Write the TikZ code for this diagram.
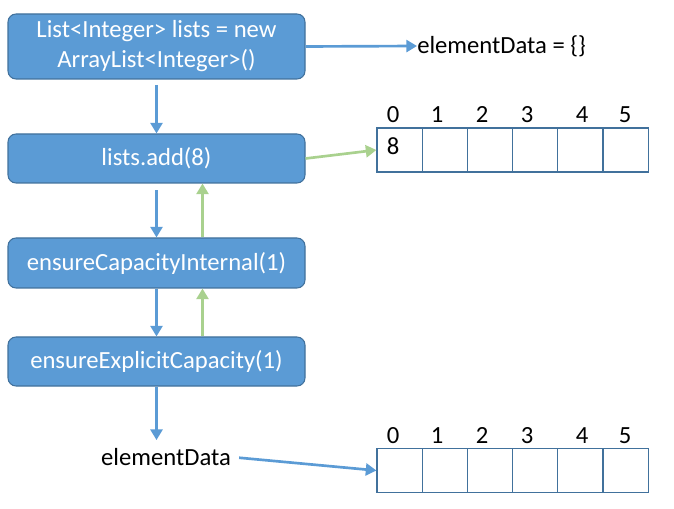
\documentclass[tikz,border=0pt]{standalone}
\usepackage{fontspec}
\setmainfont{Carlito}
\usetikzlibrary{arrows.meta}
\definecolor{boxblue}{HTML}{5B9BD5}
\definecolor{edgeblue}{HTML}{41719C}
\definecolor{backgreen}{HTML}{A9D18E}
\tikzset{
  callbox/.style={draw=edgeblue, line width=0.8pt, fill=boxblue, rounded corners=6pt,
    text=white, minimum width=222.75pt, align=center, inner sep=0pt,
    font=\fontsize{18.5}{22.5}\selectfont},
  callarrow/.style={draw=boxblue, line width=2pt, -{Triangle[width=9pt,length=8pt]}},
  backarrow/.style={draw=backgreen, line width=2pt, -{Triangle[width=9pt,length=8pt]}},
  cell/.style={draw=edgeblue, line width=0.8pt, minimum width=33.9pt, minimum height=33pt, inner sep=0pt},
  lbl/.style={font=\fontsize{18.5}{22.5}\selectfont, inner sep=0pt}
}
\begin{document}
\begin{tikzpicture}[x=0.75pt, y=-0.75pt]
	\useasboundingbox (0,0) rectangle (674,509);
	
	% the calls
	\node[callbox, minimum height=48.75pt] (decl) at (156.5,46.5) {List<Integer> lists = new\\ArrayList<Integer>()};
	\node[callbox, minimum height=36.75pt] (add) at (156.5,158.5) {lists.add(8)};
	\node[callbox, minimum height=37.5pt] (internal) at (156.5,263) {ensureCapacityInternal(1)};
	\node[callbox, minimum height=36.75pt] (explicit) at (156.5,361.5) {ensureExplicitCapacity(1)};
	\node[lbl] (data) at (166,457) {elementData};
	\node[lbl, anchor=west] (empty) at (417,46) {elementData = \{\}};
	
	% the arrays
	\foreach \i in {0,...,5} {
		\node[cell] (a\i) at (399.6+45.2*\i,150) {};
		\node[cell] (b\i) at (399.6+45.2*\i,470.5) {};
	}
	\foreach \i/\x in {0/393,1/437,2/482,3/527,4/582,5/625} {
		\node[lbl, anchor=base] (ia\i) at (\x,123) {\i};
		\node[lbl, anchor=base] (ib\i) at (\x,443) {\i};
	}
	\node[lbl, anchor=base] (eight) at (393,155) {8};
	
	% calls going down
	\draw[callarrow, shorten <=4pt] (decl) -- (add);
	\draw[callarrow, shorten <=5pt] (add) -- (internal);
	\draw[callarrow] (internal) -- (explicit);
	\draw[callarrow, shorten >=6pt] (explicit.south) -- (explicit.south |- data.north);
	\draw[callarrow] (decl.east) -- (empty.west);
	\draw[callarrow, shorten <=6pt] (data.east) -- (b0.west);
	
	% returns going up
	\draw[backarrow] ([xshift=34.5pt]internal.north) -- ([xshift=34.5pt]add.south);
	\draw[backarrow] ([xshift=34.5pt]explicit.north) -- ([xshift=34.5pt]internal.south);
	\draw[backarrow] (add.east) -- (a0.west);
\end{tikzpicture}
\end{document}
